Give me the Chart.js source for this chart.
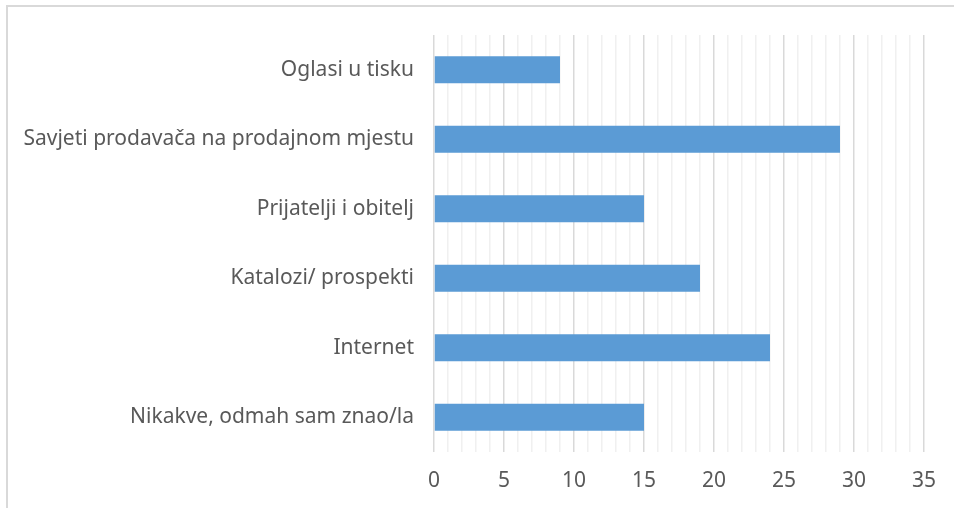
<!DOCTYPE html>
<html>
<head>
<meta charset="utf-8">
<script src="https://cdn.jsdelivr.net/npm/chart.js@4/dist/chart.umd.min.js"></script>
<style>
  html, body { margin: 0; padding: 0; background: #fff; overflow: hidden; }
  #okvir { position: absolute; left: 6px; top: 5px; width: 1000px; height: 1000px; border: 2px solid #d9d9d9; box-sizing: border-box; }
  #wrap { position: absolute; left: 0; top: 0; width: 954px; height: 508px; }
</style>
</head>
<body>
<div id="okvir"></div>
<div id="wrap"><canvas id="graf"></canvas></div>
<script>
  // izvori informacija o proizvodu
  const KATEGORIJE = [
    'Oglasi u tisku',
    'Savjeti prodavača na prodajnom mjestu',
    'Prijatelji i obitelj',
    'Katalozi/ prospekti',
    'Internet',
    'Nikakve, odmah sam znao/la'
  ];
  const VRIJEDNOSTI = [9, 29, 15, 19, 24, 15];
  const X_MIN = 0, X_MAX = 35, X_KORAK_OZNAKA = 5;

  const FONT = "'Noto Sans', 'Open Sans', sans-serif";
  const BOJA_TEKSTA = '#595959';

  new Chart(document.getElementById('graf'), {
    type: 'bar',
    data: {
      labels: KATEGORIJE,
      datasets: [{
        data: VRIJEDNOSTI,
        backgroundColor: '#5b9bd5',
        borderWidth: 0,
        categoryPercentage: 1,
        barPercentage: 0.39
      }]
    },
    options: {
      indexAxis: 'y',
      responsive: true,
      maintainAspectRatio: false,
      animation: false,
      layout: { padding: { top: 35, right: 30, left: 0, bottom: 0 } },
      plugins: { legend: { display: false }, tooltip: { enabled: false } },
      scales: {
        x: {
          min: X_MIN, max: X_MAX,
          ticks: {
            stepSize: 1, autoSkip: false, maxRotation: 0,
            padding: 16,
            color: BOJA_TEKSTA,
            font: { family: FONT, size: 21 },
            callback: v => (v % X_KORAK_OZNAKA === 0 ? v : '')
          },
          grid: {
            drawTicks: false,
            lineWidth: 1.5,
            color: ctx => (ctx.tick && ctx.tick.value % X_KORAK_OZNAKA === 0 ? '#d9d9d9' : '#f0f0f0')
          },
          border: { display: false },
          afterFit: s => { s.height = 56; }
        },
        y: {
          ticks: {
            padding: 20,
            color: BOJA_TEKSTA,
            font: { family: FONT, size: 21 }
          },
          grid: { display: false, drawTicks: false },
          border: { display: false },
          afterFit: s => { s.width = 434; }
        }
      }
    }
  });
</script>
</body>
</html>
